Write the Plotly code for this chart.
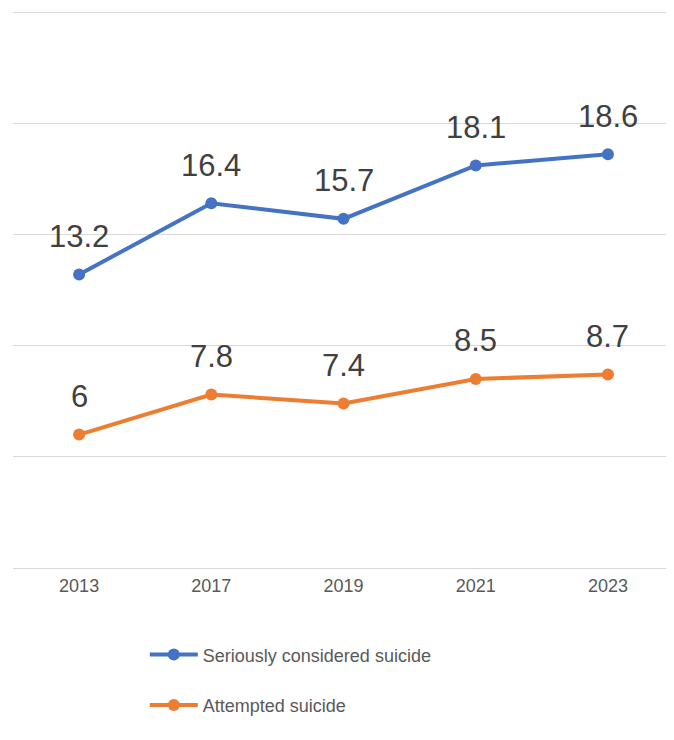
import plotly.graph_objects as go

years = ["2013", "2017", "2019", "2021", "2023"]
considered = [13.2, 16.4, 15.7, 18.1, 18.6]
attempted = [6, 7.8, 7.4, 8.5, 8.7]
series_names = ["Seriously considered suicide", "Attempted suicide"]
colors = ["#4472C4", "#ED7D31"]

FONT = "Liberation Sans, Arial, sans-serif"

fig = go.Figure()
for name, vals, col, grp in zip(series_names, [considered, attempted], colors, ["a", "b"]):
    fig.add_trace(go.Scatter(
        x=years, y=vals, mode="lines+markers", name=name, legendgroup=grp,
        line=dict(color=col, width=4), marker=dict(color=col, size=12),
        hoverinfo="skip",
    ))
    for i, v in enumerate(vals):
        fig.add_annotation(x=i, y=v, xref="x", yref="y", text=f"{v:g}",
                           showarrow=False, yshift=38,
                           font=dict(family=FONT, size=31, color="#404040"))

fig.update_layout(
    width=674, height=732,
    margin=dict(l=5, r=0, t=0, b=172, autoexpand=False),
    paper_bgcolor="white", plot_bgcolor="white",
    font=dict(family=FONT, color="#595959"),
    showlegend=True,
    legend=dict(x=0.197, xanchor="left", y=-0.122, yanchor="top",
                traceorder="grouped", tracegroupgap=24, itemwidth=48,
                font=dict(family=FONT, size=18, color="#595959"),
                bgcolor="rgba(0,0,0,0)"),
    xaxis=dict(type="category", range=[-0.5, 4.56], showgrid=False, showline=False,
               zeroline=False, ticks="", ticklabelstandoff=5,
               tickfont=dict(family=FONT, size=18, color="#595959")),
    yaxis=dict(range=[0, 25.18], tick0=0, dtick=5, showticklabels=False, showgrid=True,
               gridcolor="#D9D9D9", gridwidth=1, zeroline=True, zerolinecolor="#D9D9D9",
               zerolinewidth=1, showline=False, ticks=""),
)

fig.write_html("out.html")
